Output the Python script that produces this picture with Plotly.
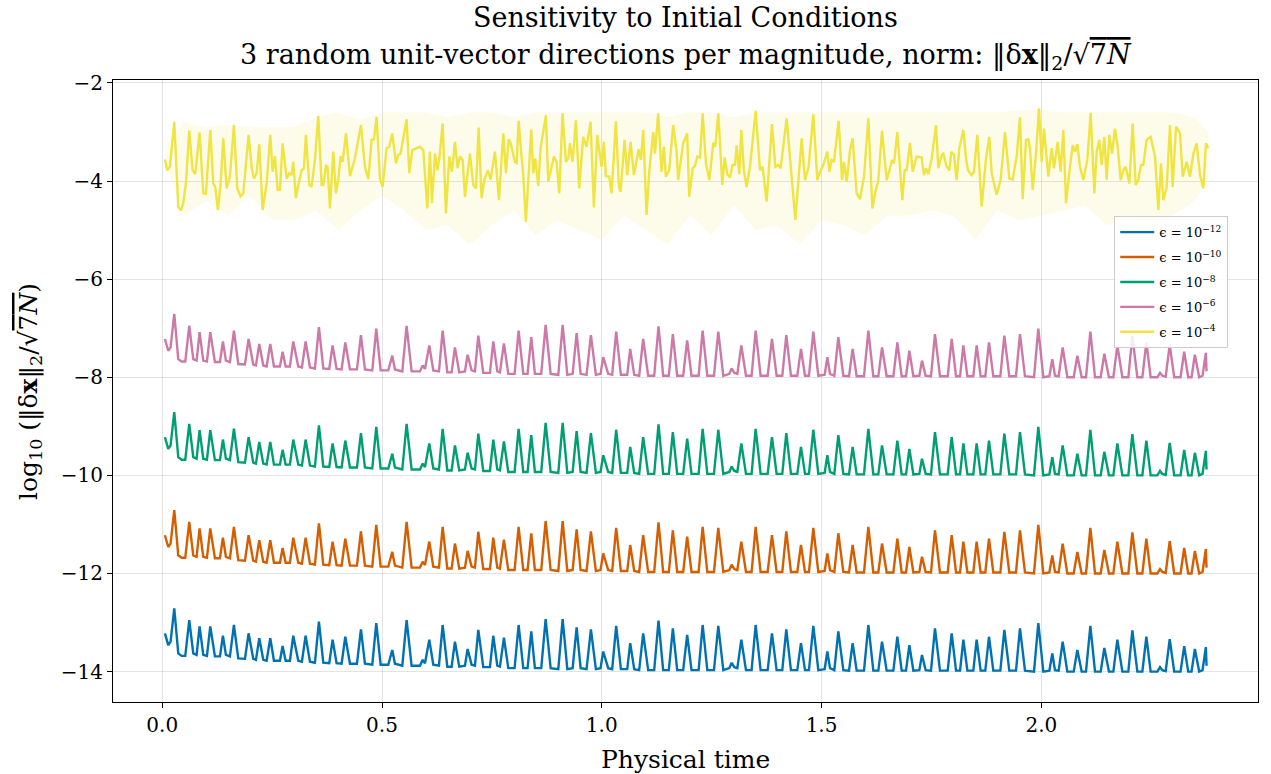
import plotly.graph_objects as go

# ---------------- data ----------------
T_LOW = [
    0.0061, 0.0137, 0.0190, 0.0274, 0.0365, 0.0441, 0.0524, 0.0615, 0.0706, 0.0782,
    0.0850, 0.0934, 0.1017, 0.1093, 0.1199, 0.1313, 0.1381, 0.1449, 0.1540, 0.1631,
    0.1730, 0.1882, 0.1965, 0.2071, 0.2132, 0.2208, 0.2299, 0.2375, 0.2458, 0.2542,
    0.2678, 0.2739, 0.2807, 0.2905, 0.2981, 0.3095, 0.3178, 0.3262, 0.3361, 0.3474,
    0.3565, 0.3664, 0.3800, 0.3876, 0.3967, 0.4081, 0.4165, 0.4271, 0.4430, 0.4521,
    0.4612, 0.4779, 0.4870, 0.4969, 0.5143, 0.5234, 0.5295, 0.5462, 0.5560, 0.5674,
    0.5864, 0.5925, 0.5978, 0.6076, 0.6167, 0.6296, 0.6380, 0.6486, 0.6584, 0.6660,
    0.6758, 0.6887, 0.6948, 0.7039, 0.7115, 0.7191, 0.7304, 0.7456, 0.7532, 0.7623,
    0.7683, 0.7774, 0.7873, 0.8017, 0.8108, 0.8214, 0.8312, 0.8396, 0.8479, 0.8623,
    0.8723, 0.8837, 0.9011, 0.9110, 0.9216, 0.9337, 0.9428, 0.9519, 0.9654, 0.9753,
    0.9866, 0.9972, 1.0033, 1.0146, 1.0237, 1.0328, 1.0435, 1.0579, 1.0647, 1.0738,
    1.0851, 1.0942, 1.1056, 1.1193, 1.1291, 1.1397, 1.1526, 1.1617, 1.1716, 1.1852,
    1.1943, 1.2042, 1.2204, 1.2295, 1.2401, 1.2553, 1.2651, 1.2765, 1.2902, 1.2955,
    1.3015, 1.3084, 1.3175, 1.3281, 1.3409, 1.3501, 1.3614, 1.3774, 1.3872, 1.3978,
    1.4107, 1.4198, 1.4304, 1.4448, 1.4532, 1.4624, 1.4714, 1.4813, 1.4927, 1.5071,
    1.5132, 1.5193, 1.5291, 1.5382, 1.5496, 1.5625, 1.5708, 1.5799, 1.5966, 1.6065,
    1.6178, 1.6292, 1.6376, 1.6482, 1.6634, 1.6725, 1.6823, 1.6922, 1.6998, 1.7089,
    1.7225, 1.7285, 1.7369, 1.7490, 1.7581, 1.7695, 1.7870, 1.7961, 1.8060, 1.8151,
    1.8227, 1.8318, 1.8453, 1.8529, 1.8620, 1.8726, 1.8810, 1.8908, 1.9068, 1.9159,
    1.9272, 1.9424, 1.9515, 1.9629, 1.9834, 1.9932, 2.0046, 2.0183, 2.0250, 2.0311,
    2.0395, 2.0486, 2.0592, 2.0737, 2.0820, 2.0918, 2.1017, 2.1116, 2.1222, 2.1351,
    2.1434, 2.1539, 2.1639, 2.1730, 2.1844, 2.1980, 2.2071, 2.2185, 2.2299, 2.2390,
    2.2488, 2.2640, 2.2701, 2.2754, 2.2830, 2.2921, 2.3024, 2.3168, 2.3251, 2.3342,
    2.3418, 2.3494, 2.3592, 2.3668, 2.3744, 2.3759,
]

V_EPS12 = [
    -13.22, -13.46, -13.39, -12.71, -13.63, -13.68, -13.68, -12.95, -13.63, -13.66,
    -13.08, -13.66, -13.68, -13.08, -13.69, -13.69, -13.27, -13.66, -13.69, -13.05,
    -13.73, -13.74, -13.22, -13.74, -13.76, -13.32, -13.76, -13.78, -13.32, -13.78,
    -13.78, -13.48, -13.78, -13.78, -13.27, -13.78, -13.80, -13.27, -13.80, -13.82,
    -12.98, -13.82, -13.83, -13.35, -13.83, -13.84, -13.29, -13.84, -13.84, -13.14,
    -13.84, -13.86, -13.01, -13.86, -13.86, -13.56, -13.84, -13.88, -12.95, -13.88,
    -13.88, -13.76, -13.83, -13.35, -13.86, -13.88, -13.05, -13.90, -13.90, -13.39,
    -13.90, -13.88, -13.54, -13.86, -13.88, -13.15, -13.91, -13.91, -13.27, -13.88,
    -13.90, -13.31, -13.93, -13.93, -13.05, -13.93, -13.93, -13.18, -13.93, -13.93,
    -12.93, -13.93, -13.95, -12.93, -13.95, -13.93, -13.10, -13.93, -13.95, -13.14,
    -13.95, -13.93, -13.59, -13.93, -13.95, -13.07, -13.95, -13.95, -13.42, -13.95,
    -13.97, -13.22, -13.97, -13.97, -12.96, -13.97, -13.97, -13.12, -13.97, -13.97,
    -13.25, -13.97, -13.97, -13.05, -13.97, -13.97, -13.07, -13.97, -13.93, -13.82,
    -13.91, -13.93, -13.35, -13.97, -13.97, -13.05, -13.97, -13.97, -13.22, -13.97,
    -13.97, -13.14, -13.97, -13.97, -13.42, -13.97, -13.97, -13.07, -13.97, -13.95,
    -13.59, -13.93, -13.97, -13.18, -13.97, -13.98, -13.42, -13.98, -13.98, -13.05,
    -13.98, -13.98, -13.39, -13.98, -13.98, -13.29, -13.98, -13.98, -13.46, -13.98,
    -13.97, -13.66, -13.97, -13.98, -13.12, -13.98, -13.98, -13.22, -13.98, -13.98,
    -13.35, -13.98, -13.98, -13.35, -13.98, -13.98, -13.29, -13.98, -13.98, -13.15,
    -13.98, -13.98, -13.12, -13.98, -14.00, -13.01, -14.00, -13.98, -13.63, -13.97,
    -13.98, -13.39, -14.00, -14.00, -13.56, -14.00, -14.00, -13.07, -14.00, -14.00,
    -13.52, -14.00, -14.00, -13.35, -14.00, -14.00, -13.16, -14.00, -14.00, -13.29,
    -14.00, -14.00, -13.91, -13.97, -13.99, -13.34, -14.00, -14.00, -13.48, -14.00,
    -14.00, -13.54, -14.00, -13.97, -13.50, -13.88,
]

V_EPS10 = [
    -11.22, -11.46, -11.39, -10.71, -11.63, -11.68, -11.68, -10.95, -11.63, -11.66,
    -11.08, -11.66, -11.68, -11.08, -11.69, -11.69, -11.27, -11.66, -11.69, -11.05,
    -11.73, -11.74, -11.22, -11.74, -11.76, -11.32, -11.76, -11.78, -11.32, -11.78,
    -11.78, -11.48, -11.78, -11.78, -11.27, -11.78, -11.80, -11.27, -11.80, -11.82,
    -10.98, -11.82, -11.83, -11.35, -11.83, -11.84, -11.29, -11.84, -11.84, -11.14,
    -11.84, -11.86, -11.01, -11.86, -11.86, -11.56, -11.84, -11.88, -10.95, -11.88,
    -11.88, -11.76, -11.83, -11.35, -11.86, -11.88, -11.05, -11.90, -11.90, -11.39,
    -11.90, -11.88, -11.54, -11.86, -11.88, -11.15, -11.91, -11.91, -11.27, -11.88,
    -11.90, -11.31, -11.93, -11.93, -11.05, -11.93, -11.93, -11.18, -11.93, -11.93,
    -10.93, -11.93, -11.95, -10.93, -11.95, -11.93, -11.10, -11.93, -11.95, -11.14,
    -11.95, -11.93, -11.59, -11.93, -11.95, -11.07, -11.95, -11.95, -11.42, -11.95,
    -11.97, -11.22, -11.97, -11.97, -10.96, -11.97, -11.97, -11.12, -11.97, -11.97,
    -11.25, -11.97, -11.97, -11.05, -11.97, -11.97, -11.07, -11.97, -11.93, -11.82,
    -11.91, -11.93, -11.35, -11.97, -11.97, -11.05, -11.97, -11.97, -11.22, -11.97,
    -11.97, -11.14, -11.97, -11.97, -11.42, -11.97, -11.97, -11.07, -11.97, -11.95,
    -11.59, -11.93, -11.97, -11.18, -11.97, -11.98, -11.42, -11.98, -11.98, -11.05,
    -11.98, -11.98, -11.39, -11.98, -11.98, -11.29, -11.98, -11.98, -11.46, -11.98,
    -11.97, -11.66, -11.97, -11.98, -11.12, -11.98, -11.98, -11.22, -11.98, -11.98,
    -11.35, -11.98, -11.98, -11.35, -11.98, -11.98, -11.29, -11.98, -11.98, -11.15,
    -11.98, -11.98, -11.12, -11.98, -12.00, -11.01, -12.00, -11.98, -11.63, -11.97,
    -11.98, -11.39, -12.00, -12.00, -11.56, -12.00, -12.00, -11.07, -12.00, -12.00,
    -11.52, -12.00, -12.00, -11.35, -12.00, -12.00, -11.16, -12.00, -12.00, -11.29,
    -12.00, -12.00, -11.91, -11.97, -11.99, -11.34, -12.00, -12.00, -11.48, -12.00,
    -12.00, -11.54, -12.00, -11.97, -11.50, -11.88,
]

V_EPS8 = [
    -9.22, -9.46, -9.39, -8.71, -9.63, -9.68, -9.68, -8.95, -9.63, -9.66,
    -9.08, -9.66, -9.68, -9.08, -9.69, -9.69, -9.27, -9.66, -9.69, -9.05,
    -9.73, -9.74, -9.22, -9.74, -9.76, -9.32, -9.76, -9.78, -9.32, -9.78,
    -9.78, -9.48, -9.78, -9.78, -9.27, -9.78, -9.80, -9.27, -9.80, -9.82,
    -8.98, -9.82, -9.83, -9.35, -9.83, -9.84, -9.29, -9.84, -9.84, -9.14,
    -9.84, -9.86, -9.01, -9.86, -9.86, -9.56, -9.84, -9.88, -8.95, -9.88,
    -9.88, -9.76, -9.83, -9.35, -9.86, -9.88, -9.05, -9.90, -9.90, -9.39,
    -9.90, -9.88, -9.54, -9.86, -9.88, -9.15, -9.91, -9.91, -9.27, -9.88,
    -9.90, -9.31, -9.93, -9.93, -9.05, -9.93, -9.93, -9.18, -9.93, -9.93,
    -8.93, -9.93, -9.95, -8.93, -9.95, -9.93, -9.10, -9.93, -9.95, -9.14,
    -9.95, -9.93, -9.59, -9.93, -9.95, -9.07, -9.95, -9.95, -9.42, -9.95,
    -9.97, -9.22, -9.97, -9.97, -8.96, -9.97, -9.97, -9.12, -9.97, -9.97,
    -9.25, -9.97, -9.97, -9.05, -9.97, -9.97, -9.07, -9.97, -9.93, -9.82,
    -9.91, -9.93, -9.35, -9.97, -9.97, -9.05, -9.97, -9.97, -9.22, -9.97,
    -9.97, -9.14, -9.97, -9.97, -9.42, -9.97, -9.97, -9.07, -9.97, -9.95,
    -9.59, -9.93, -9.97, -9.18, -9.97, -9.98, -9.42, -9.98, -9.98, -9.05,
    -9.98, -9.98, -9.39, -9.98, -9.98, -9.29, -9.98, -9.98, -9.46, -9.98,
    -9.97, -9.66, -9.97, -9.98, -9.12, -9.98, -9.98, -9.22, -9.98, -9.98,
    -9.35, -9.98, -9.98, -9.35, -9.98, -9.98, -9.29, -9.98, -9.98, -9.15,
    -9.98, -9.98, -9.12, -9.98, -10.00, -9.01, -10.00, -9.98, -9.63, -9.97,
    -9.98, -9.39, -10.00, -10.00, -9.56, -10.00, -10.00, -9.07, -10.00, -10.00,
    -9.52, -10.00, -10.00, -9.35, -10.00, -10.00, -9.16, -10.00, -10.00, -9.29,
    -10.00, -10.00, -9.91, -9.97, -9.99, -9.34, -10.00, -10.00, -9.48, -10.00,
    -10.00, -9.54, -10.00, -9.97, -9.50, -9.88,
]

V_EPS6 = [
    -7.22, -7.46, -7.39, -6.71, -7.63, -7.68, -7.68, -6.95, -7.63, -7.66,
    -7.08, -7.66, -7.68, -7.08, -7.69, -7.69, -7.27, -7.66, -7.69, -7.05,
    -7.73, -7.74, -7.22, -7.74, -7.76, -7.32, -7.76, -7.78, -7.32, -7.78,
    -7.78, -7.48, -7.78, -7.78, -7.27, -7.78, -7.80, -7.27, -7.80, -7.82,
    -6.98, -7.82, -7.83, -7.35, -7.83, -7.84, -7.29, -7.84, -7.84, -7.14,
    -7.84, -7.86, -7.01, -7.86, -7.86, -7.56, -7.84, -7.88, -6.95, -7.88,
    -7.88, -7.76, -7.83, -7.35, -7.86, -7.88, -7.05, -7.90, -7.90, -7.39,
    -7.90, -7.88, -7.54, -7.86, -7.88, -7.15, -7.91, -7.91, -7.27, -7.88,
    -7.90, -7.31, -7.93, -7.93, -7.05, -7.93, -7.93, -7.18, -7.93, -7.93,
    -6.93, -7.93, -7.95, -6.93, -7.95, -7.93, -7.10, -7.93, -7.95, -7.14,
    -7.95, -7.93, -7.59, -7.93, -7.95, -7.07, -7.95, -7.95, -7.42, -7.95,
    -7.97, -7.22, -7.97, -7.97, -6.96, -7.97, -7.97, -7.12, -7.97, -7.97,
    -7.25, -7.97, -7.97, -7.05, -7.97, -7.97, -7.07, -7.97, -7.93, -7.82,
    -7.91, -7.93, -7.35, -7.97, -7.97, -7.05, -7.97, -7.97, -7.22, -7.97,
    -7.97, -7.14, -7.97, -7.97, -7.42, -7.97, -7.97, -7.07, -7.97, -7.95,
    -7.59, -7.93, -7.97, -7.18, -7.97, -7.98, -7.42, -7.98, -7.98, -7.05,
    -7.98, -7.98, -7.39, -7.98, -7.98, -7.29, -7.98, -7.98, -7.46, -7.98,
    -7.97, -7.66, -7.97, -7.98, -7.12, -7.98, -7.98, -7.22, -7.98, -7.98,
    -7.35, -7.98, -7.98, -7.35, -7.98, -7.98, -7.29, -7.98, -7.98, -7.15,
    -7.98, -7.98, -7.12, -7.98, -8.00, -7.01, -8.00, -7.98, -7.63, -7.97,
    -7.98, -7.39, -8.00, -8.00, -7.56, -8.00, -8.00, -7.07, -8.00, -8.00,
    -7.52, -8.00, -8.00, -7.35, -8.00, -8.00, -7.16, -8.00, -8.00, -7.29,
    -8.00, -8.00, -7.91, -7.97, -7.99, -7.34, -8.00, -8.00, -7.48, -8.00,
    -8.00, -7.54, -8.00, -7.97, -7.50, -7.88,
]

T_EPS4 = [
    0.0061, 0.0114, 0.0175, 0.0274, 0.0365, 0.0425, 0.0478, 0.0539, 0.0615, 0.0691,
    0.0752, 0.0850, 0.0934, 0.0994, 0.1093, 0.1161, 0.1207, 0.1267, 0.1328, 0.1389,
    0.1464, 0.1540, 0.1631, 0.1707, 0.1783, 0.1844, 0.1965, 0.2033, 0.2086, 0.2147,
    0.2208, 0.2284, 0.2375, 0.2458, 0.2511, 0.2564, 0.2625, 0.2678, 0.2739, 0.2830,
    0.2890, 0.2943, 0.2981, 0.3042, 0.3095, 0.3171, 0.3224, 0.3269, 0.3345, 0.3398,
    0.3474, 0.3550, 0.3626, 0.3664, 0.3725, 0.3762, 0.3816, 0.3891, 0.3952, 0.4005,
    0.4058, 0.4104, 0.4180, 0.4271, 0.4384, 0.4521, 0.4612, 0.4688, 0.4764, 0.4817,
    0.4877, 0.4953, 0.5014, 0.5105, 0.5166, 0.5234, 0.5317, 0.5370, 0.5423, 0.5560,
    0.5621, 0.5689,
    0.5864, 0.5940, 0.6031, 0.6091, 0.6137, 0.6205, 0.6258, 0.6304, 0.6380, 0.6455,
    0.6531, 0.6592, 0.6660, 0.6721, 0.6774, 0.6835, 0.6888, 0.7002, 0.7077, 0.7138,
    0.7198, 0.7266, 0.7327, 0.7410, 0.7471, 0.7570, 0.7661, 0.7760, 0.7820, 0.7881,
    0.7927, 0.8025, 0.8063, 0.8109, 0.8161, 0.8214, 0.8274, 0.8396, 0.8441, 0.8487,
    0.8555, 0.8608, 0.8729, 0.8782, 0.8843, 0.8911, 0.8972, 0.9032, 0.9108, 0.9184,
    0.9237, 0.9275, 0.9336, 0.9411, 0.9487, 0.9578, 0.9654, 0.9745, 0.9821, 0.9897,
    0.9995, 1.0048, 1.0094, 1.0170, 1.0223, 1.0322, 1.0390, 1.0428, 1.0519, 1.0580,
    1.0656, 1.0731, 1.0837, 1.0890, 1.0943, 1.1019, 1.1080, 1.1171, 1.1209, 1.1284,
    1.1360, 1.1413, 1.1458, 1.1534, 1.1625, 1.1700, 1.1738, 1.1852, 1.1943, 1.1989,
    1.2068, 1.2121, 1.2174, 1.2235, 1.2295, 1.2371, 1.2447, 1.2538, 1.2583, 1.2651,
    1.2743, 1.2796, 1.2856, 1.2917, 1.2978, 1.3031, 1.3069, 1.3129, 1.3175, 1.3236,
    1.3296, 1.3372, 1.3501, 1.3600, 1.3660, 1.3751, 1.3873, 1.3949, 1.4017, 1.4070,
    1.4206, 1.4267, 1.4320, 1.4404, 1.4548, 1.4624, 1.4707, 1.4813, 1.4904, 1.4965,
    1.5041, 1.5132, 1.5177, 1.5230, 1.5283, 1.5390, 1.5466, 1.5511, 1.5572, 1.5648,
    1.5708, 1.5799, 1.5875, 1.5966, 1.6065, 1.6156, 1.6224, 1.6292, 1.6376, 1.6482,
    1.6558, 1.6603, 1.6649, 1.6725, 1.6838, 1.6891, 1.6937, 1.7013, 1.7074, 1.7164,
    1.7278, 1.7331, 1.7377, 1.7430, 1.7506, 1.7604, 1.7657, 1.7733, 1.7771, 1.7847,
    1.7908, 1.7953, 1.8014, 1.8074, 1.8135,
    1.8226, 1.8287, 1.8332, 1.8415, 1.8469, 1.8544, 1.8643, 1.8742, 1.8817, 1.8871,
    1.8984, 1.9075, 1.9174, 1.9272, 1.9348, 1.9439, 1.9515, 1.9576, 1.9652, 1.9705,
    1.9743, 1.9803, 1.9879, 1.9947, 2.0008, 2.0061, 2.0160, 2.0236, 2.0289, 2.0372,
    2.0440, 2.0501, 2.0562, 2.0653, 2.0714, 2.0767, 2.0820, 2.0880, 2.0956, 2.1047,
    2.1123, 2.1207, 2.1260, 2.1320, 2.1373, 2.1434, 2.1487, 2.1548, 2.1608, 2.1677,
    2.1737, 2.1806, 2.1866, 2.1919, 2.2003, 2.2079, 2.2147, 2.2208, 2.2268, 2.2321,
    2.2397, 2.2488, 2.2587, 2.2663, 2.2723, 2.2777, 2.2852, 2.2928, 2.2989, 2.3065,
    2.3156, 2.3217, 2.3308, 2.3384, 2.3460, 2.3535, 2.3611, 2.3687, 2.3747, 2.3800,
]

V_EPS4 = [
    -3.56, -3.78, -3.71, -2.79, -4.52, -4.60, -4.45, -4.05, -2.97, -3.78,
    -3.86, -3.01, -4.25, -4.26, -2.96, -4.05, -4.12, -4.59, -4.05, -3.13,
    -4.15, -3.91, -2.86, -4.15, -4.31, -4.25, -3.06, -3.71, -3.95, -3.84,
    -3.25, -4.59, -4.05, -3.06, -3.81, -3.49, -4.18, -4.18, -3.23, -3.95,
    -3.84, -3.88, -3.61, -4.35, -4.08, -3.78, -3.74, -3.06, -4.08, -4.12,
    -3.57, -2.67, -4.08, -4.08, -3.69, -3.71, -4.56, -3.40, -4.25, -3.98,
    -3.49, -3.61, -3.03, -3.90, -3.54, -2.86, -3.71, -3.96, -3.16, -3.15,
    -2.69, -3.95, -4.12, -3.33, -3.30, -3.03, -3.64, -3.47, -3.44, -2.74,
    -3.84, -3.37,
    -3.30, -3.37, -4.56, -3.40, -4.45, -3.44, -3.78, -3.54, -2.83, -4.66,
    -3.50, -3.81, -3.20, -3.74, -3.50, -3.57, -4.32, -3.44, -4.08, -4.15,
    -2.91, -4.35, -3.98, -3.78, -3.97, -3.40, -4.39, -3.03, -3.84, -3.15,
    -3.23, -3.61, -3.63, -2.77, -3.37, -3.88, -4.83, -2.95, -3.84, -3.54,
    -4.10, -3.33, -2.66, -4.01, -3.78, -3.50, -3.61, -4.25, -2.62, -3.61,
    -3.54, -3.23, -3.61, -2.76, -4.15, -3.10, -3.30, -2.79, -4.54, -3.06,
    -3.71, -3.20, -3.90, -3.91, -4.25, -2.78, -4.12, -4.22, -3.16, -3.88,
    -3.20, -3.88, -3.35, -3.57, -2.96, -4.69, -3.81, -3.00, -3.44, -2.62,
    -3.81, -3.30, -3.91, -3.78, -2.86, -3.37, -3.98, -3.23, -3.03, -4.32,
    -3.74, -3.69, -3.50, -3.52, -2.62, -3.64, -3.98, -3.22, -3.30, -2.62,
    -4.08, -3.52, -3.86, -3.93, -3.67, -3.67, -3.27, -3.86, -2.96, -3.81,
    -4.12, -3.71, -2.57, -3.78, -3.71, -4.42, -2.84, -3.71, -3.67, -3.74,
    -2.72, -3.37, -3.81, -4.79, -3.13, -3.98, -3.71, -2.64, -3.98, -3.81,
    -3.67, -3.40, -3.81, -3.57, -3.61, -2.77, -3.98, -3.61, -4.01, -3.37,
    -3.13, -4.25, -4.37, -3.91, -2.72, -4.56, -4.22, -3.98, -2.97, -3.98,
    -3.74, -3.57, -3.64, -3.00, -4.39, -3.78, -3.78, -3.22, -3.81, -3.50,
    -3.52, -3.88, -3.74, -3.86, -3.54, -2.86, -3.74, -3.47, -3.44, -3.71,
    -3.78, -3.40, -3.47, -3.98, -3.33,
    -2.96, -3.54, -3.78, -3.88, -3.81, -3.06, -4.52, -3.54, -3.10, -3.84,
    -4.28, -3.98, -3.00, -3.95, -3.97, -3.50, -2.70, -4.37, -3.16, -3.15,
    -3.33, -4.18, -3.44, -2.52, -3.61, -2.93, -3.91, -3.33, -3.74, -3.20,
    -3.81, -2.96, -4.45, -3.71, -3.27, -3.40, -3.25, -3.71, -3.98, -3.57,
    -2.61, -4.25, -3.40, -3.16, -3.67, -3.10, -3.97, -3.06, -3.44, -2.93,
    -3.30, -3.98, -3.78, -3.71, -4.05, -2.83, -4.08, -3.98, -3.67, -3.67,
    -3.16, -3.10, -3.50, -4.59, -3.64, -4.39, -4.13, -2.86, -4.12, -2.89,
    -3.03, -3.91, -3.61, -3.91, -3.44, -3.23, -3.88, -4.15, -3.23, -3.33,
]

# spread across the 3 directions for eps = 1e-4 (light band)
T_BAND4 = [0.0061, 0.05, 0.10, 0.15, 0.20, 0.25, 0.30, 0.35, 0.40, 0.45, 0.50, 0.55,
           0.60, 0.65, 0.70, 0.75, 0.80, 0.85, 0.90, 0.95, 1.00, 1.05, 1.10, 1.15,
           1.20, 1.25, 1.30, 1.35, 1.40, 1.45, 1.50, 1.55, 1.60, 1.65, 1.70, 1.75,
           1.80, 1.85, 1.90, 1.95, 2.00, 2.05, 2.10, 2.15, 2.20, 2.25, 2.30, 2.35, 2.38]
LO_EPS4 = [-3.6, -4.7, -4.4, -4.7, -4.3, -4.8, -4.8, -4.6, -5.0, -4.6, -4.3, -4.6,
           -5.0, -4.9, -5.3, -4.9, -4.6, -5.1, -4.8, -5.0, -5.2, -4.7, -5.0, -5.3,
           -4.7, -5.1, -4.5, -5.0, -4.9, -5.3, -4.8, -4.9, -5.1, -4.7, -4.7, -4.6,
           -4.7, -5.2, -4.6, -4.8, -4.7, -4.6, -4.5, -4.9, -4.8, -5.0, -4.7, -4.4, -3.9]
HI_EPS4 = [-3.3, -2.8, -2.9, -2.85, -2.9, -2.9, -2.9, -2.7, -2.6, -2.75, -2.6, -2.6,
           -2.6, -2.7, -2.6, -2.6, -2.7, -2.6, -2.6, -2.6, -2.6, -2.6, -2.6, -2.7,
           -2.6, -2.6, -2.7, -2.6, -2.6, -2.6, -2.6, -2.6, -2.6, -2.6, -2.6, -2.6,
           -2.6, -2.6, -2.6, -2.55, -2.55, -2.6, -2.6, -2.6, -2.6, -2.6, -2.6, -2.7, -3.0]

LABELS = ["ϵ = 10<sup>−12</sup>", "ϵ = 10<sup>−10</sup>", "ϵ = 10<sup>−8</sup>",
          "ϵ = 10<sup>−6</sup>", "ϵ = 10<sup>−4</sup>"]
COLORS = ["#0072B2", "#D55E00", "#009E73", "#CC79A7", "#F0E442"]
X_TICKS = [0.0, 0.5, 1.0, 1.5, 2.0]
X_TICKTEXT = ["0.0", "0.5", "1.0", "1.5", "2.0"]
Y_TICKS = [-14, -12, -10, -8, -6, -4, -2]
Y_TICKTEXT = ["−14", "−12", "−10", "−8", "−6", "−4", "−2"]

FONT = "DejaVu Serif"

fig = go.Figure()
for i, (vals, lab, col) in enumerate(zip([V_EPS12, V_EPS10, V_EPS8, V_EPS6], LABELS[:4], COLORS[:4])):
    fig.add_trace(go.Scatter(x=T_LOW, y=vals, mode="lines", name=lab, legendgroup=f"g{i}",
                             line=dict(color=col, width=2.4)))

fig.add_trace(go.Scatter(x=T_BAND4, y=LO_EPS4, mode="lines", line=dict(width=0, color=COLORS[4]),
                         showlegend=False, hoverinfo="skip", legendgroup="g4"))
fig.add_trace(go.Scatter(x=T_BAND4, y=HI_EPS4, mode="lines", line=dict(width=0, color=COLORS[4]),
                         fill="tonexty", fillcolor="rgba(240,228,66,0.11)",
                         showlegend=False, hoverinfo="skip", legendgroup="g4"))
fig.add_trace(go.Scatter(x=T_EPS4, y=V_EPS4, mode="lines", name=LABELS[4], legendgroup="g4",
                         line=dict(color=COLORS[4], width=2.4)))

axis_common = dict(showline=True, mirror=True, linecolor="black", linewidth=1,
                   ticks="outside", ticklen=5, tickwidth=1, tickcolor="black",
                   showgrid=True, gridcolor="rgba(0,0,0,0.11)", gridwidth=1,
                   zeroline=False, tickfont=dict(family=FONT, size=20, color="black"))

fig.update_layout(
    width=1271, height=774,
    margin=dict(l=113, r=13, t=80, b=72),
    paper_bgcolor="white", plot_bgcolor="white",
    font=dict(family=FONT, color="black"),
    xaxis=dict(range=[-0.112, 2.493], tickvals=X_TICKS, ticktext=X_TICKTEXT, **axis_common),
    yaxis=dict(range=[-14.62, -1.94], tickvals=Y_TICKS, ticktext=Y_TICKTEXT, **axis_common),
    showlegend=True,
    legend=dict(x=0.974, y=0.781, xanchor="right", yanchor="top", traceorder="grouped",
                tracegroupgap=5, itemwidth=34,
                bgcolor="rgba(255,255,255,0.85)", bordercolor="#cccccc", borderwidth=1,
                font=dict(family=FONT, size=13, color="black")),
    annotations=[
        dict(text="Sensitivity to Initial Conditions", xref="paper", yref="paper",
             x=0.5, y=1.101, xanchor="center", yanchor="middle", showarrow=False,
             font=dict(family=FONT, size=27)),
        dict(text="3 random unit-vector directions per magnitude, norm: "
                  "‖δ<b>x</b>‖<sub>2</sub>/√<span style='text-decoration:overline'>7<i>N</i></span>",
             xref="paper", yref="paper", x=0.5, y=1.037, xanchor="center", yanchor="middle",
             showarrow=False, font=dict(family=FONT, size=27)),
        dict(text="Physical time", xref="paper", yref="paper", x=0.5, y=-0.093,
             xanchor="center", yanchor="middle", showarrow=False,
             font=dict(family=FONT, size=25)),
        dict(text="log<sub>10</sub> (‖δ<b>x</b>‖<sub>2</sub>/√<span style='text-decoration:overline'>7<i>N</i></span>)",
             xref="paper", yref="paper", x=-0.0725, y=0.5, xanchor="center", yanchor="middle",
             textangle=-90, showarrow=False, font=dict(family=FONT, size=25)),
    ],
)

fig.write_html("out.html")
